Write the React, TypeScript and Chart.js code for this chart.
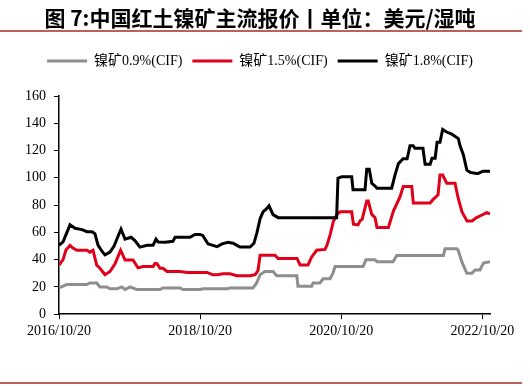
import React, { useEffect, useRef } from "react";
import { Chart, registerables } from "chart.js";

Chart.register(...registerables);

const TITLE = "图 7:中国红土镍矿主流报价丨单位：美元/湿吨";
const SERIES_NAMES = ["镍矿0.9%(CIF)", "镍矿1.5%(CIF)", "镍矿1.8%(CIF)"];
const SERIES_COLORS = ["#8E8E8E", "#E0001A", "#000000"];
const X_TICK_DATES = ["2016-10-20", "2018-10-20", "2020-10-20", "2022-10-20"];
const X_START = "2016-10-20";
const X_END = "2022-11-29";
const Y_MIN = 0;
const Y_MAX = 160;
const Y_STEP = 20;

const grayDates = [
  "2016-10-20", "2016-11-10", "2016-11-29", "2017-03-12", "2017-03-29", "2017-05-03", "2017-05-20", "2017-06-24",
  "2017-07-11", "2017-08-15", "2017-09-10", "2017-09-27", "2017-10-23", "2017-11-26", "2018-03-27", "2018-04-11",
  "2018-07-08", "2018-07-24", "2018-10-20", "2018-11-04", "2019-03-09", "2019-03-24", "2019-07-21", "2019-08-09",
  "2019-08-27", "2019-09-21", "2019-11-02", "2019-11-21", "2020-03-04", "2020-03-10", "2020-05-20", "2020-05-27",
  "2020-07-02", "2020-07-18", "2020-08-23", "2020-09-07", "2020-09-18", "2021-02-10", "2021-02-25", "2021-04-13",
  "2021-04-23", "2021-07-15", "2021-08-03", "2022-04-02", "2022-04-10", "2022-06-10", "2022-06-17", "2022-07-06",
  "2022-08-01", "2022-08-27", "2022-09-13", "2022-10-08", "2022-10-26", "2022-11-29",
];
const grayValues = [
  19.3, 20.5, 21.7, 21.7, 22.9, 22.9, 20, 20,
  18.6, 18.6, 20, 18.1, 20, 18.1, 18.1, 19.3,
  19.3, 18.1, 18.1, 18.6, 18.6, 19.3, 19.3, 22.9,
  29, 31.3, 31.3, 28.2, 28.2, 20.5, 20.5, 22.9,
  22.9, 26, 26, 30, 34.9, 34.9, 40, 40,
  38.5, 38.5, 43, 43, 48, 48, 47, 38.5,
  30, 30, 32.5, 32.5, 37.5, 38.5,
];

const redDates = [
  "2016-10-20", "2016-11-10", "2016-11-25", "2016-12-16", "2016-12-31", "2017-01-21", "2017-03-14", "2017-03-29",
  "2017-04-14", "2017-05-03", "2017-05-20", "2017-06-15", "2017-07-11", "2017-08-06", "2017-09-04", "2017-09-27",
  "2017-11-07", "2017-12-03", "2017-12-29", "2018-02-19", "2018-03-01", "2018-03-11", "2018-03-27", "2018-04-11",
  "2018-05-02", "2018-07-08", "2018-08-14", "2018-11-25", "2018-12-26", "2019-01-16", "2019-02-16", "2019-03-24",
  "2019-04-29", "2019-07-06", "2019-08-01", "2019-08-16", "2019-08-27", "2019-11-12", "2019-11-28", "2020-03-05",
  "2020-03-21", "2020-05-01", "2020-05-20", "2020-06-15", "2020-07-28", "2020-08-07", "2020-08-23", "2020-09-09",
  "2020-09-27", "2020-10-14", "2020-12-13", "2020-12-22", "2021-01-15", "2021-01-25", "2021-02-05", "2021-03-01",
  "2021-03-09", "2021-03-18", "2021-03-27", "2021-04-13", "2021-04-23", "2021-06-21", "2021-07-17", "2021-08-20",
  "2021-09-06", "2021-10-20", "2021-10-28", "2022-01-23", "2022-02-07", "2022-03-05", "2022-03-15", "2022-03-29",
  "2022-04-19", "2022-06-01", "2022-06-17", "2022-07-07", "2022-07-14", "2022-08-02", "2022-08-28", "2022-09-21",
  "2022-10-08", "2022-11-12", "2022-11-29",
];
const redValues = [
  36.1, 40, 47, 50.5, 48.5, 46.9, 46.9, 45.5,
  46.9, 36.1, 33.7, 28.9, 31.3, 37, 46.9, 39.7,
  39.7, 34, 34.9, 34.9, 37.2, 37, 33.7, 33.7,
  31.3, 31.3, 30.6, 30.6, 28.9, 28.9, 29.6, 29.6,
  28.2, 28.2, 29, 32, 43.3, 43.3, 40.9, 40.9,
  36.1, 36.1, 42, 46.9, 47.5, 50.5, 58, 68,
  73, 75.1, 75.1, 66, 65.5, 68.4, 69.6, 83,
  83, 78, 73.2, 70.8, 63.6, 63.6, 75.6, 86,
  93.6, 93.6, 81.6, 81.6, 84, 87.6, 102, 102,
  96, 96, 85.2, 75, 73.2, 68.4, 68.4, 70.8,
  72, 74.4, 73.5,
];

const blackDates = [
  "2016-10-20", "2016-11-10", "2016-11-30", "2016-12-16", "2017-01-11", "2017-02-16", "2017-03-14", "2017-04-09",
  "2017-04-24", "2017-05-10", "2017-05-31", "2017-06-15", "2017-07-11", "2017-08-01", "2017-08-21", "2017-09-06",
  "2017-09-27", "2017-10-28", "2017-11-17", "2017-12-13", "2018-01-19", "2018-02-19", "2018-03-06", "2018-03-17",
  "2018-04-22", "2018-06-02", "2018-06-13", "2018-08-29", "2018-09-24", "2018-10-20", "2018-11-04", "2018-11-30",
  "2018-12-26", "2019-01-16", "2019-02-11", "2019-03-14", "2019-04-09", "2019-04-29", "2019-05-15", "2019-07-06",
  "2019-07-26", "2019-08-11", "2019-08-27", "2019-09-11", "2019-09-27", "2019-10-12", "2019-11-02", "2019-11-28",
  "2020-09-26", "2020-10-03", "2020-10-23", "2020-12-13", "2020-12-20", "2021-02-20", "2021-03-01", "2021-03-14",
  "2021-03-27", "2021-04-13", "2021-04-23", "2021-07-08", "2021-07-25", "2021-08-12", "2021-09-05", "2021-09-26",
  "2021-10-11", "2021-10-27", "2021-11-06", "2021-12-17", "2021-12-28", "2022-01-23", "2022-02-02", "2022-02-18",
  "2022-02-28", "2022-03-15", "2022-03-29", "2022-04-19", "2022-05-15", "2022-06-18", "2022-06-27", "2022-07-14",
  "2022-08-01", "2022-08-18", "2022-09-21", "2022-09-28", "2022-10-24", "2022-11-29",
];
const blackValues = [
  50.5, 53, 60, 65.5, 63, 62, 60.5, 60.5,
  59, 50.7, 46, 43.5, 45.6, 50, 57, 62.4,
  55, 56.4, 54, 49.2, 50.5, 50.5, 55, 53,
  52.8, 53.5, 56.4, 56.4, 58.5, 58.5, 57.6, 51.6,
  50.5, 49.5, 51.6, 52.8, 52, 50.5, 49.2, 49.2,
  52, 60, 70, 75, 77, 79.5, 73, 70.8,
  70.8, 99.6, 100.8, 100.8, 91.2, 91.2, 106.3, 106.3,
  96, 94, 92.4, 92.4, 102, 110.4, 114, 114,
  123.5, 123.5, 121.6, 121.6, 110, 110, 114.4, 114.4,
  126, 126, 135.5, 133.6, 132, 128.8, 123.5, 117,
  105.6, 104, 103.2, 103.2, 104.9, 104.9,
];

const ts = (s: string) => {
  const [y, m, d] = s.split("-").map(Number);
  return Date.UTC(y, m - 1, d);
};
const fmt = (v: number) => {
  const d = new Date(v);
  return `${d.getUTCFullYear()}/${d.getUTCMonth() + 1}/${d.getUTCDate()}`;
};
const toPoints = (dates: string[], values: number[]) =>
  dates.map((d, i) => ({ x: ts(d), y: values[i] }));

const rulesPlugin = {
  id: "rules",
  afterDraw(chart: any) {
    const { ctx } = chart;
    ctx.save();
    ctx.strokeStyle = "#BF5F5A";
    ctx.lineWidth = 2;
    ctx.beginPath();
    ctx.moveTo(0, 31);
    ctx.lineTo(522, 31);
    ctx.moveTo(0, 383);
    ctx.lineTo(522, 383);
    ctx.stroke();
    ctx.restore();
  },
};

export default function App() {
  const ref = useRef<HTMLCanvasElement>(null);

  useEffect(() => {
    document.body.style.margin = "0";
    const canvas = ref.current;
    if (!canvas) return;
    const series = [
      toPoints(grayDates, grayValues),
      toPoints(redDates, redValues),
      toPoints(blackDates, blackValues),
    ];
    const chart = new Chart(canvas, {
      type: "line",
      data: {
        datasets: series.map((pts, i) => ({
          label: SERIES_NAMES[i],
          data: pts,
          borderColor: SERIES_COLORS[i],
          backgroundColor: SERIES_COLORS[i],
          borderWidth: 3,
          pointRadius: 0,
          tension: 0,
          fill: false,
          order: 3 - i,
        })),
      },
      options: {
        animation: false,
        responsive: false,
        maintainAspectRatio: false,
        layout: { padding: { left: 0, right: 10, top: 0, bottom: 42 } },
        plugins: {
          title: {
            display: true,
            text: TITLE,
            color: "#000",
            font: { family: '"Noto Sans CJK SC", sans-serif', size: 21, weight: "bold", lineHeight: 1.2 },
            padding: { top: 5, bottom: 13.8 },
          },
          subtitle: {
            display: true,
            text: "",
            weight: 500,
            font: { size: 18, lineHeight: 1 },
            padding: 0,
          } as any,
          legend: {
            display: true,
            position: "top",
            labels: {
              boxWidth: 40,
              boxHeight: 3,
              padding: 10,
              color: "#000",
              font: { family: '"Liberation Serif", "Noto Sans CJK SC", serif', size: 14 },
              generateLabels: (c: any) =>
                c.data.datasets.map((ds: any, i: number) => ({
                  text: ds.label,
                  fillStyle: ds.borderColor,
                  strokeStyle: ds.borderColor,
                  lineWidth: 0,
                  hidden: false,
                  datasetIndex: i,
                  fontColor: "#000",
                })),
            },
          },
          tooltip: { enabled: false },
        },
        scales: {
          x: {
            type: "linear",
            min: ts(X_START),
            max: ts(X_END),
            afterBuildTicks: (scale: any) => {
              scale.ticks = X_TICK_DATES.map((d) => ({ value: ts(d) }));
            },
            ticks: {
              autoSkip: false,
              maxRotation: 0,
              minRotation: 0,
              padding: 4,
              color: "#000",
              font: { family: '"Liberation Serif", serif', size: 14 },
              callback: (v: any) => fmt(Number(v)),
            },
            grid: { display: true, drawOnChartArea: false, drawTicks: true, tickLength: 5, color: "#000", lineWidth: 1 },
            border: { display: true, color: "#000", width: 1.5 },
          },
          y: {
            min: Y_MIN,
            max: Y_MAX,
            afterFit: (scale: any) => {
              scale.width = 59;
            },
            ticks: {
              stepSize: Y_STEP,
              padding: 8,
              color: "#000",
              font: { family: '"Liberation Serif", serif', size: 14 },
            },
            grid: { display: true, drawOnChartArea: false, drawTicks: true, tickLength: 5, color: "#000", lineWidth: 1 },
            border: { display: true, color: "#000", width: 1.5 },
          },
          yRight: {
            position: "right",
            display: true,
            min: Y_MIN,
            max: Y_MAX,
            afterFit: (scale: any) => {
              scale.width = 30;
            },
            ticks: { display: false },
            grid: { display: false },
            border: { display: false },
          },
        },
      },
      plugins: [rulesPlugin],
    });
    return () => chart.destroy();
  }, []);

  return (
    <div style={{ width: 530, height: 386, position: "relative", background: "#fff" }}>
      <canvas ref={ref} width={530} height={386} style={{ display: "block" }} />
    </div>
  );
}
